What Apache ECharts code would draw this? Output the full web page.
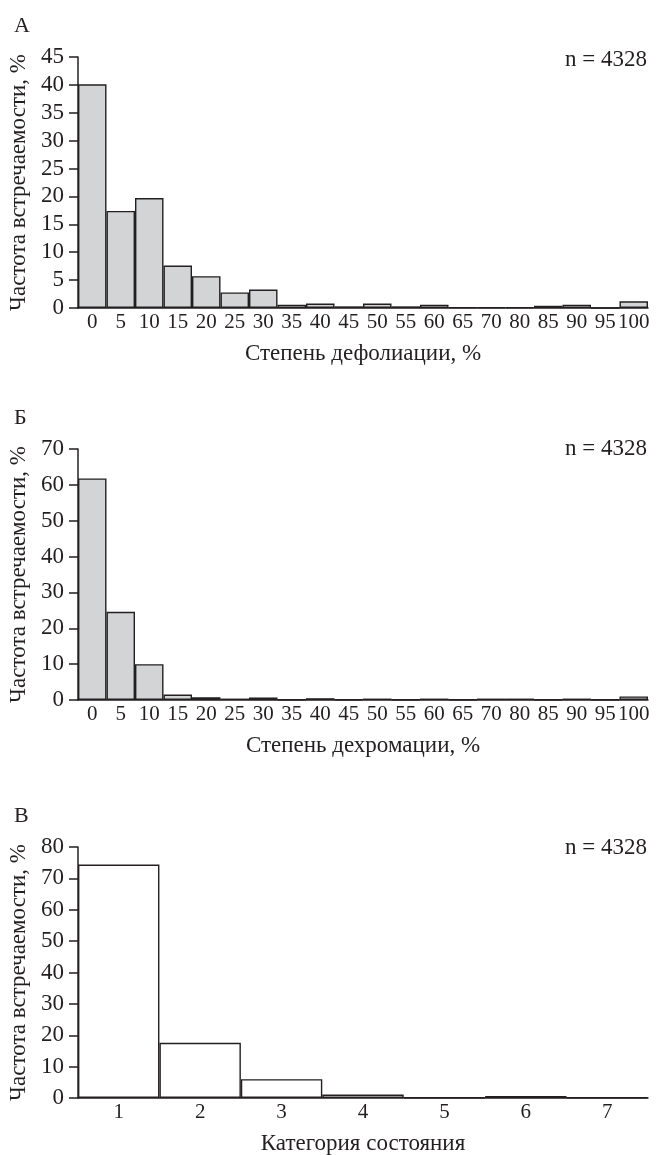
<!DOCTYPE html>
<html>
<head>
<meta charset="utf-8">
<script src="https://cdn.jsdelivr.net/npm/echarts@6/dist/echarts.min.js"></script>
<style>
  html, body { margin: 0; padding: 0; background: #fff; }
  #chart { width: 658px; height: 1155px; }
</style>
</head>
<body>
<div id="chart"></div>
<script>
// категории (по оси X)
var degreeCats = ['0', '5', '10', '15', '20', '25', '30', '35', '40', '45', '50', '55', '60', '65', '70', '80', '85', '90', '95', '100'];
var stateCats = ['1', '2', '3', '4', '5', '6', '7'];

// значения, %
var defoliation = [40.1, 17.4, 19.7, 7.6, 5.7, 2.8, 3.3, 0.6, 0.8, 0.3, 0.8, 0.3, 0.6, 0.15, 0.15, 0.15, 0.4, 0.6, 0, 1.2];
var dechromation = [61.8, 24.6, 10.0, 1.5, 0.8, 0.4, 0.7, 0.1, 0.5, 0.15, 0.4, 0.1, 0.4, 0.1, 0.4, 0.4, 0.1, 0.4, 0.1, 1.0];
var stateShare = [74.4, 17.6, 6.0, 1.1, 0.2, 0.6, 0.2];

var font = 'Liberation Serif';
var ink = '#231f20';

var chart = echarts.init(document.getElementById('chart'));

// общие настройки осей
function xAxisOf(idx, cats, name) {
  return {
    gridIndex: idx,
    type: 'category',
    data: cats,
    name: name,
    nameLocation: 'middle',
    nameGap: 34,
    nameTextStyle: { fontFamily: font, fontSize: 23, color: ink },
    axisLine: { lineStyle: { color: ink, width: 1.5 } },
    axisTick: { show: false },
    axisLabel: { interval: 0, fontFamily: font, fontSize: 21, color: ink, margin: 4 }
  };
}
function yAxisOf(idx, max, interval) {
  return {
    gridIndex: idx,
    type: 'value',
    min: 0,
    max: max,
    interval: interval,
    name: 'Частота встречаемости, %',
    nameLocation: 'middle',
    nameRotate: 90,
    nameGap: 47,
    nameTextStyle: { fontFamily: font, fontSize: 23, color: ink },
    axisLine: { show: true, lineStyle: { color: ink, width: 1.5 } },
    axisTick: { show: true, length: 9, lineStyle: { color: ink, width: 1.5 } },
    axisLabel: { fontFamily: font, fontSize: 23, color: ink, margin: 14 },
    splitLine: { show: false }
  };
}
function barsOf(idx, data, fill) {
  return {
    type: 'bar',
    xAxisIndex: idx,
    yAxisIndex: idx,
    data: data,
    barCategoryGap: '0%',
    itemStyle: { color: fill, borderColor: ink, borderWidth: 1.4 },
    animation: false
  };
}

var letterStyle = { fontFamily: font, fontSize: 22, color: ink, fontWeight: 'normal' };
var nStyle = { fontFamily: font, fontSize: 23, color: ink, fontWeight: 'normal' };

option = {
  animation: false,
  title: [
    { text: 'А', left: 14, top: 15, padding: 0, textStyle: letterStyle },
    { text: 'n = 4328', right: 11, top: 48, padding: 0, textStyle: nStyle },
    { text: 'Б', left: 14, top: 407, padding: 0, textStyle: letterStyle },
    { text: 'n = 4328', right: 11, top: 437, padding: 0, textStyle: nStyle },
    { text: 'В', left: 14, top: 805, padding: 0, textStyle: letterStyle },
    { text: 'n = 4328', right: 11, top: 836, padding: 0, textStyle: nStyle }
  ],
  grid: [
    { left: 78, right: 10, top: 57, height: 251, outerBoundsMode: 'none' },
    { left: 78, right: 10, top: 449, height: 251, outerBoundsMode: 'none' },
    { left: 78, right: 10, top: 847, height: 251, outerBoundsMode: 'none' }
  ],
  xAxis: [
    xAxisOf(0, degreeCats, 'Степень дефолиации, %'),
    xAxisOf(1, degreeCats, 'Степень дехромации, %'),
    xAxisOf(2, stateCats, 'Категория состояния')
  ],
  yAxis: [
    yAxisOf(0, 45, 5),
    yAxisOf(1, 70, 10),
    yAxisOf(2, 80, 10)
  ],
  series: [
    barsOf(0, defoliation, '#d3d4d6'),
    barsOf(1, dechromation, '#d3d4d6'),
    barsOf(2, stateShare, '#ffffff')
  ]
};

chart.setOption(option);
</script>
</body>
</html>
